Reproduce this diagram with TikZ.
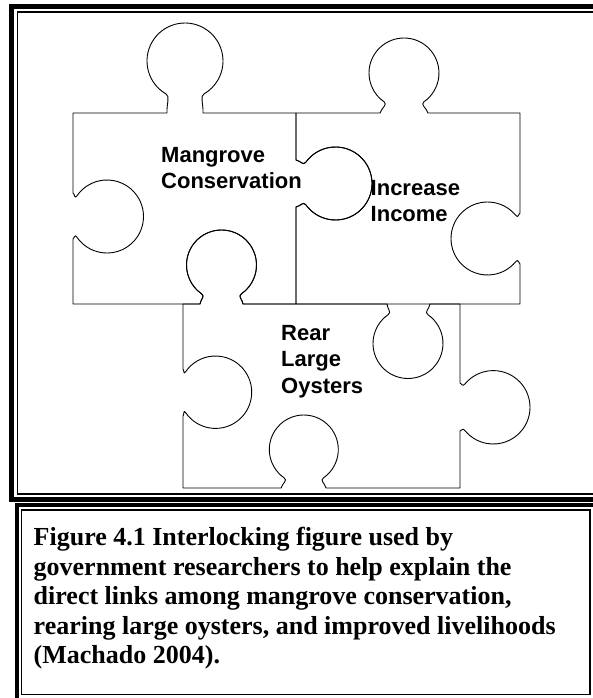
\documentclass[tikz,border=0pt]{standalone}
\usepackage{fontspec}
\setmainfont{Liberation Serif}
\newfontfamily\piecefont{Liberation Sans}
\usepackage{tikz}
\usetikzlibrary{positioning}
\usetikzlibrary{calc}
\def\knob#1#2#3#4#5#6{.. controls ($(#1)!.5!($(#2)+(#4:#3)$)$) and ($(#2)+(#4:#3)+({(#4)-90*sign((#5)-(#4))}:5)$) .. ($(#2)+(#4:#3)$) arc[start angle=#4, end angle=#5, radius=#3] .. controls ($(#2)+(#5:#3)+({(#5)+90*sign((#5)-(#4))}:5)$) and ($(#6)!.5!($(#2)+(#5:#3)$)$) .. (#6)}

\begin{document}
\begin{tikzpicture}[x=1bp, y=-1bp,
		piece/.style={line width=0.9bp, black, line join=round},
		piecelabel/.style={inner sep=0pt, anchor=north west, align=left, font=\piecefont\bfseries\fontsize{22bp}{26.5bp}\selectfont},
		captext/.style={inner sep=0pt, align=left, font=\bfseries\fontsize{26bp}{29.5bp}\selectfont}]
		\useasboundingbox (0,0) rectangle (593,698);
		\clip (0,0) rectangle (593,698);
		\draw[line width=5bp] (11.5,6.5) rectangle (610,499.5);
		\draw[line width=1.2bp] (17.5,12) rectangle (604,494);
		\draw[line width=4bp] (16.5,505) rectangle (610,720);
		\draw[line width=1.5bp] (21.5,510) rectangle (590,694.5);
		\coordinate (capcorner) at (21.5,510);
		\draw[piece] (73,113) -- (167,113) \knob{167,113}{185,61}{38}{120}{420}{203,113} -- (296,113) -- (296,160) \knob{296,160}{335.5,183.5}{36.5}{216}{504}{296,207} -- (296,304) -- (243,304) \knob{243,304}{221.5,265}{35}{55}{-235}{200,304} -- (73,304) -- (73,239) \knob{73,239}{107,216.5}{36.5}{145}{-145}{73,193} -- cycle;
		\draw[piece] (296,113) -- (380,113) \knob{380,113}{404,73}{35}{125}{415}{428,113} -- (520,113) -- (520,213) \knob{520,213}{487.5,238.5}{36.5}{-40}{-320}{520,264} -- (520,304) -- (296,304) -- (296,207) \knob{296,207}{335.5,183.5}{36.5}{144}{-144}{296,160} -- cycle;
		\draw[piece] (183,304) -- (200,304) \knob{200,304}{221.5,265}{35}{125}{415}{243,304} -- (387,304) \knob{387,304}{408,343.5}{35}{235}{-55}{430,304} -- (460,304) -- (460,383) \knob{460,383}{493.3,407.3}{36.7}{220}{500}{460,431} -- (460,488) -- (326,488) \knob{326,488}{303.8,449.5}{34.5}{55}{-235}{281,488} -- (183,488) -- (183,416) \knob{183,416}{215.5,392.2}{36.2}{145}{-145}{183,369} -- cycle;
		\node[piecelabel] (mangrove) at (161,147) {Mangrove\\Conservation};
		\node[piecelabel] (income) at (370.5,180) {Increase\\Income};
		\node[piecelabel] (oysters) at (281,325) {Rear\\Large\\Oysters};
		\node[captext, below right=17bp and 12bp of capcorner] (caption) {Figure 4.1 Interlocking figure used by\\government researchers to help explain the\\direct links among mangrove conservation,\\rearing large oysters, and improved livelihoods\\(Machado 2004).};
	\end{tikzpicture}
\end{document}
